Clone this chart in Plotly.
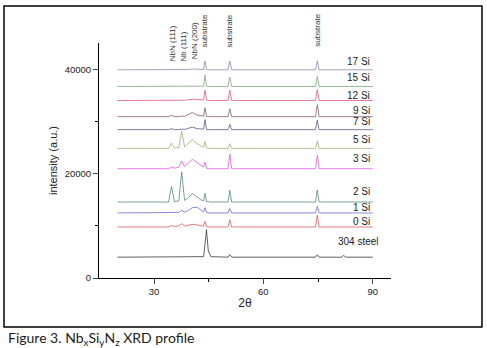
import plotly.graph_objects as go

# 2-theta sample points (degrees)
two_theta = [20, 34.0, 34.8, 35.6, 36.8, 37.6, 38.4, 39.2, 40.5, 41.8, 43.2, 43.6, 44.0, 44.4,
             44.9, 45.6, 50.3, 50.8, 51.3, 74.3, 74.8, 75.3, 81.5, 82.0, 82.5, 90]

# intensities (a.u., offset as in the figure)
i_17si = [40000, 40000, 40000, 40000, 40000, 40050, 40000, 40050, 40150, 40100, 40050, 40050, 41700, 40050,
          40000, 40000, 40000, 41700, 40000, 40000, 41700, 40000, 40000, 40000, 40000, 40000]
i_15si = [36800, 36800, 36800, 36800, 36800, 36800, 36800, 36850, 36900, 36900, 36850, 36850, 39000, 36850,
          36800, 36800, 36800, 38600, 36800, 36800, 38700, 36800, 36800, 36800, 36800, 36800]
i_12si = [34100, 34100, 34150, 34100, 34150, 34200, 34150, 34250, 34350, 34300, 34200, 34200, 36100, 34150,
          34100, 34100, 34100, 36100, 34100, 34100, 36200, 34100, 34100, 34100, 34100, 34100]
i_9si = [31000, 31000, 31250, 31000, 31000, 31100, 31050, 31300, 31800, 31300, 31100, 31100, 32700, 31050,
         31000, 31000, 31000, 32500, 31000, 31000, 33300, 31000, 31000, 31000, 31000, 31000]
i_7si = [28500, 28500, 28700, 28500, 28500, 28600, 28550, 28700, 29000, 28700, 28600, 28600, 30400, 28550,
         28500, 28500, 28500, 29500, 28500, 28500, 30300, 28500, 28500, 28500, 28500, 28500]
i_5si = [24900, 24900, 25900, 25000, 25050, 28200, 25200, 25700, 26600, 25800, 25200, 25100, 26200, 25000,
         24900, 24900, 24900, 25800, 24900, 24900, 26300, 24900, 24900, 24900, 24900, 24900]
i_3si = [21000, 21000, 21300, 21100, 21300, 22500, 21400, 21900, 22800, 22200, 21500, 21300, 22300, 21100,
         21000, 21000, 21000, 23800, 21000, 21000, 23600, 21000, 21000, 21000, 21000, 21000]
i_2si = [14600, 14600, 17600, 14700, 14800, 20400, 14900, 15300, 16200, 15500, 14900, 14800, 16300, 14700,
         14600, 14600, 14600, 16850, 14600, 14600, 16900, 14600, 14600, 14600, 14600, 14600]
i_1si = [12500, 12500, 12600, 12500, 12600, 13000, 12650, 12900, 13500, 13600, 12800, 12700, 13500, 12600,
         12500, 12500, 12500, 13350, 12500, 12500, 13800, 12500, 12500, 12500, 12500, 12500]
i_0si = [9800, 9800, 10100, 9900, 10000, 10450, 10000, 10150, 10300, 10200, 10000, 9950, 10900, 9900,
         9800, 9800, 9800, 11200, 9800, 9800, 12050, 9800, 9800, 9800, 9800, 9800]
i_steel = [4000, 4000, 4000, 4000, 4000, 4000, 4000, 4000, 4000, 4000, 4000, 4100, 6500, 9250,
           5200, 4100, 4000, 4500, 4000, 4000, 4450, 4000, 4000, 4400, 4000, 4000]

series_names = ["17 Si", "15 Si", "12 Si", "9 Si", "7 Si", "5 Si", "3 Si", "2 Si", "1 Si", "0 Si", "304 steel"]
label_y = [41540, 38460, 35120, 32170, 30120, 26600, 22880, 16650, 13580, 10880, 7040]

y_tickvals = [0, 20000, 40000]
y_ticktext = ["0", "20000", "40000"]
x_tickvals = [30, 60, 90]

peak_labels = ["NbN (111)", "Nb (111)", "NbN (200)", "substrate", "substrate", "substrate"]
peak_pos = [35.1, 38.0, 41.0, 43.9, 50.8, 75.0]
peak_label_y = [0.997, 0.986, 1.008, 1.052, 1.052, 1.052]

series_vals = [i_17si, i_15si, i_12si, i_9si, i_7si, i_5si, i_3si, i_2si, i_1si, i_0si, i_steel]
colors = ["#8a8ab0", "#7aa87a", "#e4587f", "#8a5a7a", "#5a5a8a", "#a8a878", "#e258e2",
          "#588878", "#6a6ad4", "#e45a5a", "#383838"]

FONT = "Arial, Liberation Sans, sans-serif"

fig = go.Figure()
for name, vals, c in zip(series_names, series_vals, colors):
    fig.add_trace(go.Scatter(x=two_theta, y=vals, mode="lines", name=name,
                             line=dict(color=c, width=0.8), showlegend=False))

for name, yv in zip(series_names, label_y):
    xr = 92.2 if name == "304 steel" else 89.9
    fig.add_annotation(x=xr, y=yv, xref="x", yref="y", text=name, showarrow=False,
                       xanchor="right", yanchor="middle", font=dict(family=FONT, size=10, color="#222"))

for t, xp, yp in zip(peak_labels, peak_pos, peak_label_y):
    fig.add_annotation(x=xp, y=yp, xref="x", yref="paper", text=t, showarrow=False, textangle=-90,
                       xanchor="center", yanchor="middle", font=dict(family=FONT, size=8, color="#333"))

# outer frame
fig.add_shape(type="rect", xref="paper", yref="paper", x0=-0.3253, x1=1.3116, y0=-0.2085, y1=1.1574,
              line=dict(color="black", width=1.5), fillcolor="rgba(0,0,0,0)")

fig.add_annotation(x=-0.318, y=-0.209, xref="paper", yref="paper", showarrow=False,
                   xanchor="left", yanchor="top",
                   text="Figure 3. Nb<sub>x</sub>Si<sub>y</sub>N<sub>z</sub> XRD profile",
                   font=dict(family="Lato, Open Sans, sans-serif", size=14, color="#222"))

fig.update_layout(
    width=487, height=348,
    margin=dict(l=99, r=96, t=43, b=70),
    paper_bgcolor="white", plot_bgcolor="white",
    font=dict(family=FONT, color="#222"),
)
fig.update_xaxes(range=[14.91, 95.02], tickvals=x_tickvals, ticks="outside", ticklen=5,
                 showline=True, linecolor="black", linewidth=1, showgrid=False, zeroline=False,
                 tickfont=dict(size=9.5), title=dict(text="2θ", font=dict(size=12), standoff=2),
                 minor=dict(tickvals=[45, 75], ticks="outside", ticklen=3, tickcolor="black"))
fig.update_yaxes(range=[0, 45150], tickvals=y_tickvals, ticktext=y_ticktext, ticks="outside", ticklen=5,
                 showline=True, linecolor="black", linewidth=1, showgrid=False, zeroline=False,
                 tickfont=dict(size=9.5), title=dict(text="intensity (a.u.)", font=dict(size=11), standoff=4),
                 minor=dict(tickvals=[10000, 30000], ticks="outside", ticklen=3, tickcolor="black"))

fig.write_html("out.html", config={"displayModeBar": False},
               post_script="document.body.style.margin='0px';")
